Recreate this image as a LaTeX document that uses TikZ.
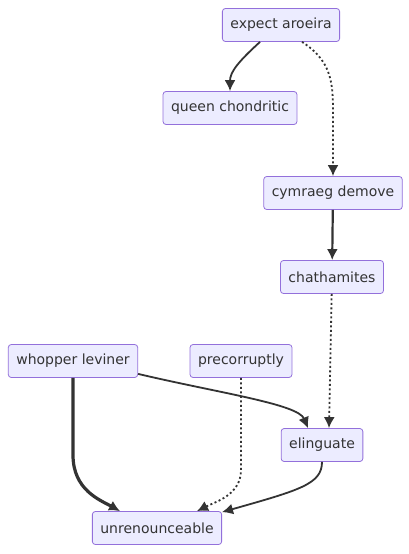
\documentclass[tikz,border=0pt]{standalone}
\usepackage{fontspec}
\setmainfont{DejaVu Sans}
\usetikzlibrary{arrows.meta}
\definecolor{boxfill}{HTML}{ECECFF}
\definecolor{boxline}{HTML}{9370DB}
\definecolor{edge}{HTML}{333333}
\tikzset{
  box/.style={draw=boxline,fill=boxfill,rounded corners=3pt,line width=0.8pt,
    minimum height=33pt,inner xsep=8pt,text=edge,font=\fontsize{14}{16}\selectfont},
  link/.style={edge,line width=1.8pt,-{Latex[length=11pt,width=11pt]}},
  heavy/.style={link,line width=3.2pt},
  dots/.style={link,dash pattern=on 2pt off 2.5pt},
}
\begin{document}
\begin{tikzpicture}[x=1pt,y=-1pt]
\useasboundingbox (0,0) rectangle (409,554);
\node[box] (ea) at (281,25) {expect aroeira};
\node[box] (qc) at (230,108) {queen chondritic};
\node[box] (cd) at (333,193) {cymraeg demove};
\node[box] (ch) at (332,277) {chathamites};
\node[box] (wl) at (73,361) {whopper leviner};
\node[box] (pc) at (241,361) {precorruptly};
\node[box] (el) at (322,445) {elinguate};
\node[box] (un) at (157,528) {unrenounceable};
% upper part
\draw[link] ([xshift=-21pt]ea.south) .. controls (238,62) and (230,72) .. (qc.north);
\draw[dots] ([xshift=21pt]ea.south) .. controls (330,60) and (333,80) .. (333,110) -- (cd.north);
\draw[link,line width=2.2pt] (cd) -- (ch);
\draw[dots] (ch) -- ([xshift=7pt]el.north);
% lower part
\draw[link] ([yshift=4pt]wl.south east) .. controls (219,393) and (298,404) .. ([xshift=-14pt]el.north);
\draw[heavy] (wl) -- (73,455) .. controls (73,490) and (100,500) .. ([xshift=-37pt]un.north);
\draw[dots] (pc) -- (241,470) .. controls (241,495) and (215,502) .. ([xshift=40pt]un.north);
\draw[link] (el) .. controls (322,484) and (300,490) .. ([yshift=-1pt]un.north east);
\end{tikzpicture}
\end{document}
